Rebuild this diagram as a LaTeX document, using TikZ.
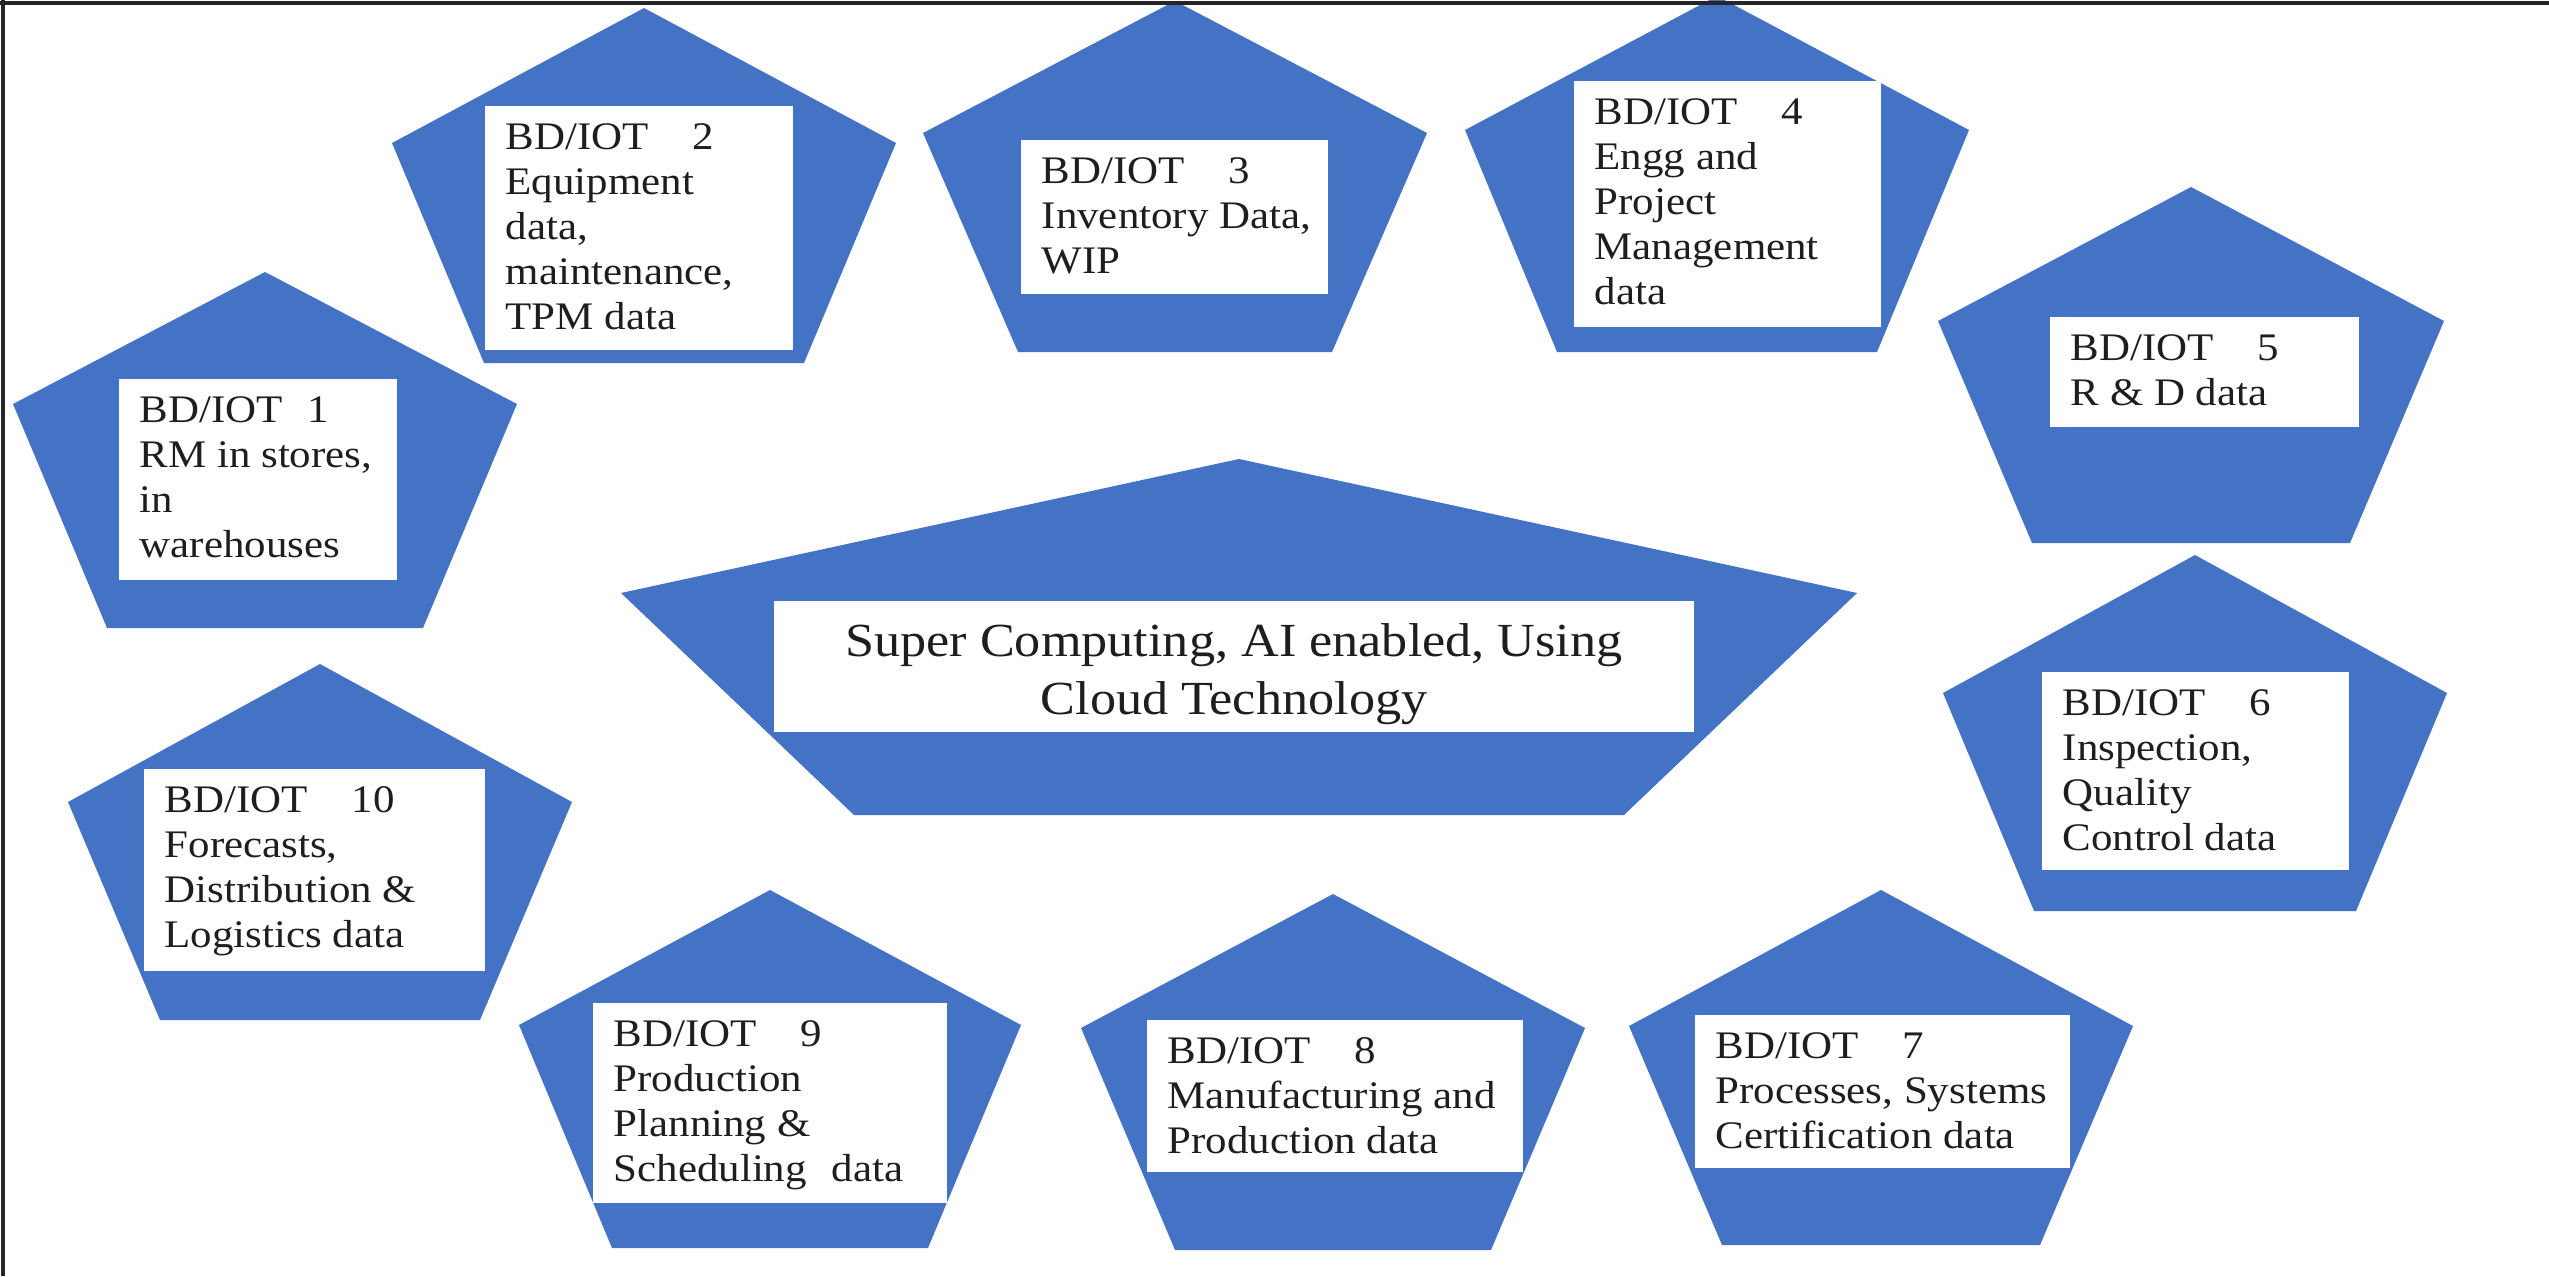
\documentclass[tikz,border=0pt]{standalone}
\usepackage{fontspec}
\setmainfont{Liberation Serif}[FakeStretch=1.1]
\definecolor{pentblue}{RGB}{68,114,196}
\definecolor{txtgray}{RGB}{30,30,30}
\tikzset{
  pent/.style={fill=pentblue, draw=none},
  wbox/.style={fill=white, draw=none},
  lbl/.style={anchor=north west, inner sep=0pt, align=left, text=txtgray,
    font=\fontsize{11.1}{12.8}\selectfont},
  clbl/.style={anchor=north, inner sep=0pt, align=center, text=txtgray,
    font=\fontsize{13.5}{16.5}\selectfont},
  frameline/.style={draw=black!85, line width=1.2pt},
}
% #1 cx, #2 apex y, #3 side y, #4 bottom y, #5 half width, #6 half bottom width
\newcommand\pentshape[6]{%
  \fill[pent] (#1,#2) -- ({#1+#5},#3) -- ({#1+#6},#4) -- ({#1-#6},#4) -- ({#1-#5},#3) -- cycle;}
% #1 name, #2 x1, #3 y1, #4 x2, #5 y2, #6 text
\newcommand\databox[6]{%
  \fill[wbox] (#2,#3) rectangle (#4,#5);
  \node[lbl] (#1) at ({#2+20},{#3+17}) {#6};}
\newcommand\gapA{\hspace{12.5pt}}
\begin{document}
\begin{tikzpicture}[x=0.01cm, y=-0.01cm]
\useasboundingbox (0,0) rectangle (2549,1276);
\fill[white] (0,0) rectangle (2549,1276);
\begin{scope}
\clip (0,0) rectangle (2549,1276);
% pentagons
\pentshape{265}{272}{404}{628}{252}{158}
\pentshape{644}{8}{143}{363}{252}{160}
\pentshape{1175}{1}{133}{352}{252}{157}
\pentshape{1717}{-4}{130}{352}{252}{160}
\pentshape{2191}{187}{321}{543}{253}{159}
\pentshape{2195}{555}{693}{911}{252}{161}
\pentshape{1881}{890}{1026}{1245}{252}{159}
\pentshape{1333}{894}{1028}{1250}{252}{158}
\pentshape{770}{890}{1025}{1248}{251}{158}
\pentshape{320}{664}{802}{1020}{252}{160}
\pentshape{1239}{459}{593}{815}{618}{385}
% boxes with text
\databox{b1}{119}{379}{397}{580}{BD/IOT\hspace{7pt}1\\RM in stores,\\in\\warehouses}
\databox{b2}{485}{106}{793}{350}{BD/IOT\gapA 2\\Equipment\\data,\\maintenance,\\TPM data}
\databox{b3}{1021}{140}{1328}{294}{BD/IOT\gapA 3\\Inventory Data,\\WIP}
\databox{b4}{1574}{81}{1881}{327}{BD/IOT\gapA 4\\Engg and\\Project\\Management\\data}
\databox{b5}{2050}{317}{2359}{427}{BD/IOT\gapA 5\\R \& D data}
\databox{b6}{2042}{672}{2349}{870}{BD/IOT\gapA 6\\Inspection,\\Quality\\Control data}
\databox{b7}{1695}{1015}{2070}{1168}{BD/IOT\gapA 7\\Processes, Systems\\Certification data}
\databox{b8}{1147}{1020}{1523}{1172}{BD/IOT\gapA 8\\Manufacturing and\\Production data}
\databox{b9}{593}{1003}{947}{1203}{BD/IOT\gapA 9\\Production\\Planning \&\\Scheduling\hspace{4pt} data}
\databox{b10}{144}{769}{485}{971}{BD/IOT\gapA 10\\Forecasts,\\Distribution \&\\Logistics data}
% central box
\fill[wbox] (774,601) rectangle (1694,732);
\node[clbl] (core) at (1234,623) {Super Computing, AI enabled, Using\\Cloud Technology};
\end{scope}
% frame (top and left edges)
\draw[frameline] (0,3) -- (2549,3);
\draw[frameline] (3,0) -- (3,1276);
\end{tikzpicture}
\end{document}
